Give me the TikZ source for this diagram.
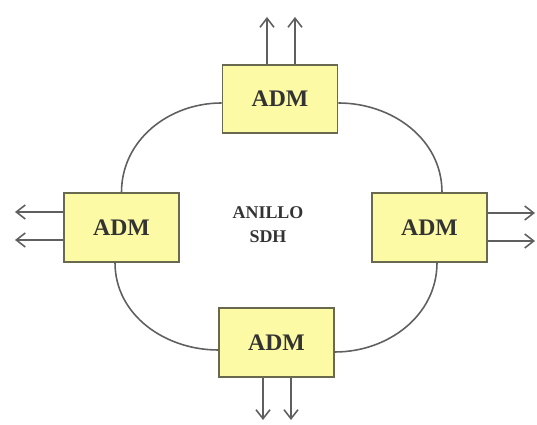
\documentclass[tikz,border=0pt]{standalone}
\usepackage{fontspec}
\setmainfont{Liberation Serif}
\usetikzlibrary{arrows.meta}
\definecolor{admyellow}{RGB}{252,250,165}
\definecolor{admborder}{RGB}{105,105,80}
\definecolor{ringgray}{RGB}{95,95,95}

\begin{document}
\begin{tikzpicture}[
            adm/.style = {draw=admborder, fill=admyellow, line width=1pt,
              rectangle, minimum width=2.3cm, minimum height=1.37cm,
              font=\fontsize{13.5}{16}\selectfont\bfseries, text=black!80},
            ring/.style = {draw=ringgray, line width=0.9pt}, % ring line
            trib/.style = {ring, -{Straight Barb[length=1.8mm, width=2.8mm]}}
            ]
            \useasboundingbox (0,0) rectangle (10.74,8.5);

            \node[adm] (top) at (5.6,6.52) {ADM};
            \node[adm] (left) at (2.43,3.95) {ADM};
            \node[adm] (right) at (8.59,3.95) {ADM};
            \node[adm] (bottom) at (5.53,1.65) {ADM};

            \node[align=center, text=black!80,
            font=\fontsize{10.2}{13.6}\selectfont\bfseries] (anillo) at (5.36,4.0) {ANILLO\\SDH};

            % ring between the multiplexers
            \path[ring] ([yshift=-0.8mm]top.west) to[out=180, in=90] (left.north);
            \path[ring] ([yshift=-0.8mm]top.east) to[out=0, in=90] ([xshift=2.5mm]right.north);
            \path[ring] ([xshift=-1.3mm]left.south) to[out=-90, in=180] ([yshift=-1.5mm]bottom.west);
            \path[ring] ([xshift=1.5mm]right.south) to[out=-90, in=0] ([yshift=-1.9mm]bottom.east);

            % tributary ends
            \coordinate (top1) at (5.34,8.16);
            \coordinate (top2) at (5.90,8.16);
            \coordinate (left1) at (0.3,4.26);
            \coordinate (left2) at (0.3,3.70);
            \coordinate (right1) at (10.7,4.24);
            \coordinate (right2) at (10.7,3.68);
            \coordinate (bot1) at (5.26,0.1);
            \coordinate (bot2) at (5.82,0.1);

            \draw[trib] (top.north -| top1) -- (top1);
            \draw[trib] (top.north -| top2) -- (top2);
            \draw[trib] (left.west |- left1) -- (left1);
            \draw[trib] (left.west |- left2) -- (left2);
            \draw[trib] (right.east |- right1) -- (right1);
            \draw[trib] (right.east |- right2) -- (right2);
            \draw[trib] (bottom.south -| bot1) -- (bot1);
            \draw[trib] (bottom.south -| bot2) -- (bot2);
        \end{tikzpicture}
\end{document}
